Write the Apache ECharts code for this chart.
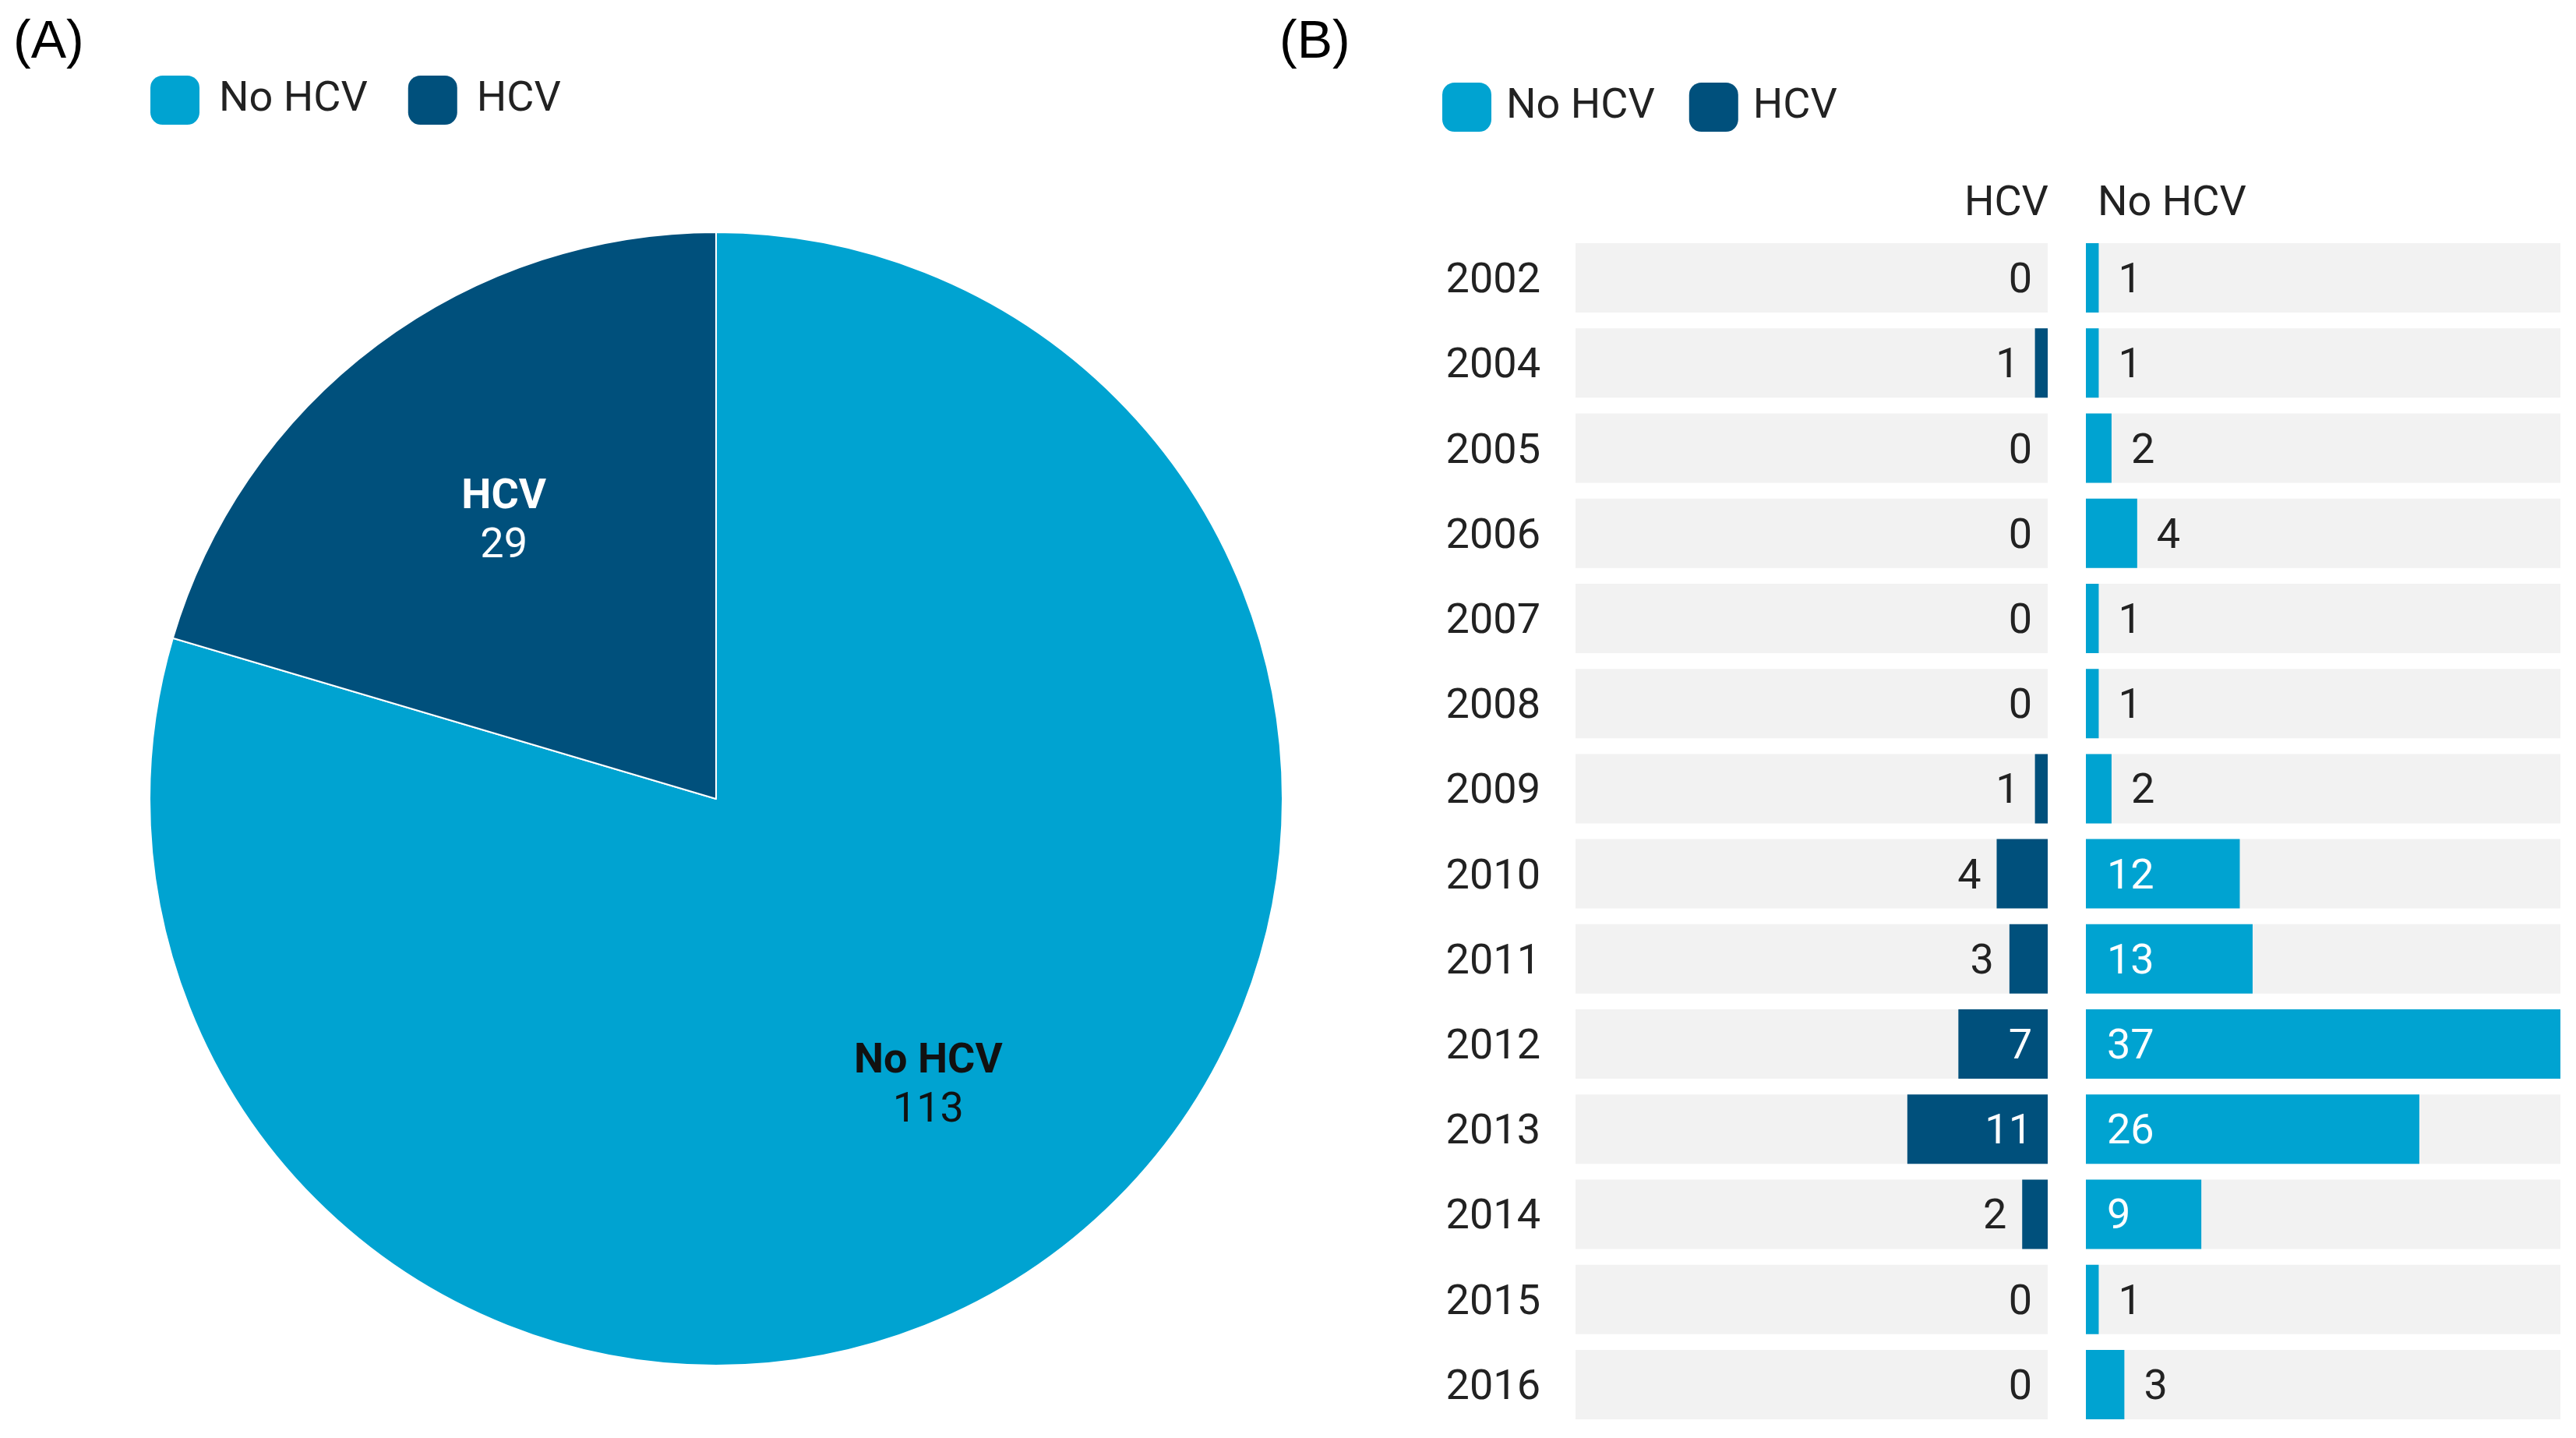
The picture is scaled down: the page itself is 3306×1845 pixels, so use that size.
<!DOCTYPE html>
<html>
<head>
<meta charset="utf-8">
<script src="https://cdn.jsdelivr.net/npm/echarts@6/dist/echarts.min.js"></script>
<style>
html,body{margin:0;padding:0;background:#fff;}
#chart{width:3306px;height:1845px;}
</style>
</head>
<body>
<div id="chart"></div>
<script>
// ---- data ----
const years = ['2002','2004','2005','2006','2007','2008','2009','2010','2011','2012','2013','2014','2015','2016'];
const hcv   = [0,1,0,0,0,0,1,4,3,7,11,2,0,0];
const noHcv = [1,1,2,4,1,1,2,12,13,37,26,9,1,3];
const pieNames  = ['No HCV','HCV'];
const pieValues = [113, 29];

// ---- style ----
const LIGHT = '#00a3d1';
const DARK  = '#00507c';
const TXT   = '#222222';
const FONT  = 'Roboto, "Noto Sans", sans-serif';
const FS = 54;
const AXIS_MAX = 37;
const INSIDE_MIN = 5;

const gridTop = 302, gridH = 1529;
const leftGrid  = {left: 2022, top: gridTop, width: 606, height: gridH};
const rightGrid = {left: 2677, top: gridTop, width: 609, height: gridH};

function barData(vals, side) {
  return vals.map(v => {
    const inside = v >= INSIDE_MIN;
    let pos, dist;
    if (side === 'left') { pos = inside ? 'insideRight' : 'left'; dist = 20; }
    else { pos = inside ? 'insideLeft' : 'right'; dist = inside ? 27 : 25; }
    return {value: v, label: {position: pos, distance: dist, offset: [0, 5], color: inside ? '#ffffff' : TXT}};
  });
}

const chart = echarts.init(document.getElementById('chart'), null, {renderer: 'canvas'});
const option = {
  backgroundColor: '#ffffff',
  animation: false,
  textStyle: {fontFamily: FONT},
  title: [
    {text: '(A)', left: 12, top: 16, textStyle: {fontFamily: '"Liberation Sans", Arial, sans-serif', fontSize: 68, fontWeight: 'normal', color: '#000'}},
    {text: '(B)', left: 1637, top: 16, textStyle: {fontFamily: '"Liberation Sans", Arial, sans-serif', fontSize: 68, fontWeight: 'normal', color: '#000'}}
  ],
  legend: [
    {
      data: pieNames, left: 188, top: 92, orient: 'horizontal',
      icon: 'roundRect', itemWidth: 63, itemHeight: 63, itemGap: 52,
      selectedMode: false,
      textStyle: {fontFamily: FONT, fontSize: FS, color: TXT, padding: [0, 0, 0, 20]}
    },
    {
      data: ['No HCV','HCV'], left: 1846, top: 101, orient: 'horizontal',
      icon: 'roundRect', itemWidth: 63, itemHeight: 63, itemGap: 44,
      selectedMode: false,
      textStyle: {fontFamily: FONT, fontSize: FS, color: TXT, padding: [0, 0, 0, 14]}
    }
  ],
  grid: [
    Object.assign({containLabel: false}, leftGrid),
    Object.assign({containLabel: false}, rightGrid)
  ],
  xAxis: [
    {type: 'value', gridIndex: 0, min: 0, max: AXIS_MAX, inverse: true, show: false},
    {type: 'value', gridIndex: 1, min: 0, max: AXIS_MAX, show: false}
  ],
  yAxis: [
    {type: 'category', gridIndex: 0, data: years, inverse: true,
     axisLine: {show: false}, axisTick: {show: false}, splitLine: {show: false},
     axisLabel: {margin: 45, color: TXT, formatter: '{y|{value}}',
       rich: {y: {fontSize: FS, fontFamily: FONT, color: TXT, padding: [10, 0, 0, 0]}}}},
    {type: 'category', gridIndex: 1, data: years, inverse: true,
     axisLine: {show: false}, axisTick: {show: false}, splitLine: {show: false},
     axisLabel: {show: false}}
  ],
  graphic: [
    {type: 'text', right: 3306 - 2629, top: 235,
     style: {text: 'HCV', font: FS + 'px ' + FONT, fill: TXT, textAlign: 'right'}},
    {type: 'text', left: 2692, top: 235,
     style: {text: 'No HCV', font: FS + 'px ' + FONT, fill: TXT}}
  ],
  series: [
    {
      type: 'pie', name: 'pie', center: [919, 1025], radius: 727,
      startAngle: 90, clockwise: true, silent: true,
      data: pieNames.map((n, i) => ({name: n, value: pieValues[i], itemStyle: {color: i === 0 ? LIGHT : DARK}})),
      itemStyle: {borderColor: '#ffffff', borderWidth: 2},
      label: {show: false}, labelLine: {show: false}
    },
    {
      type: 'pie', name: 'pieLabels', center: [919, 1025], radius: [177, 727],
      startAngle: 90, clockwise: true, silent: true,
      data: pieNames.map((n, i) => ({
        name: n, value: pieValues[i],
        label: {color: i === 0 ? '#111111' : '#ffffff', offset: [0, i === 0 ? 4 : 10]}
      })),
      itemStyle: {color: 'rgba(0,0,0,0)', borderWidth: 0},
      labelLine: {show: false},
      label: {
        show: true, position: 'inside',
        formatter: '{b|{b}}\n{c|{c}}',
        rich: {
          b: {fontFamily: FONT, fontSize: FS, fontWeight: 'bold', lineHeight: 63},
          c: {fontFamily: FONT, fontSize: FS, fontWeight: 'normal', lineHeight: 63}
        }
      }
    },
    {
      type: 'bar', name: 'HCV', xAxisIndex: 0, yAxisIndex: 0,
      data: barData(hcv, 'left'), barWidth: 89,
      itemStyle: {color: DARK},
      showBackground: true, backgroundStyle: {color: '#f2f2f2'},
      label: {show: true, fontSize: FS, fontFamily: FONT},
      silent: true
    },
    {
      type: 'bar', name: 'No HCV', xAxisIndex: 1, yAxisIndex: 1,
      data: barData(noHcv, 'right'), barWidth: 89,
      itemStyle: {color: LIGHT},
      showBackground: true, backgroundStyle: {color: '#f2f2f2'},
      label: {show: true, fontSize: FS, fontFamily: FONT},
      silent: true
    }
  ]
};
chart.setOption(option);
</script>
</body>
</html>
